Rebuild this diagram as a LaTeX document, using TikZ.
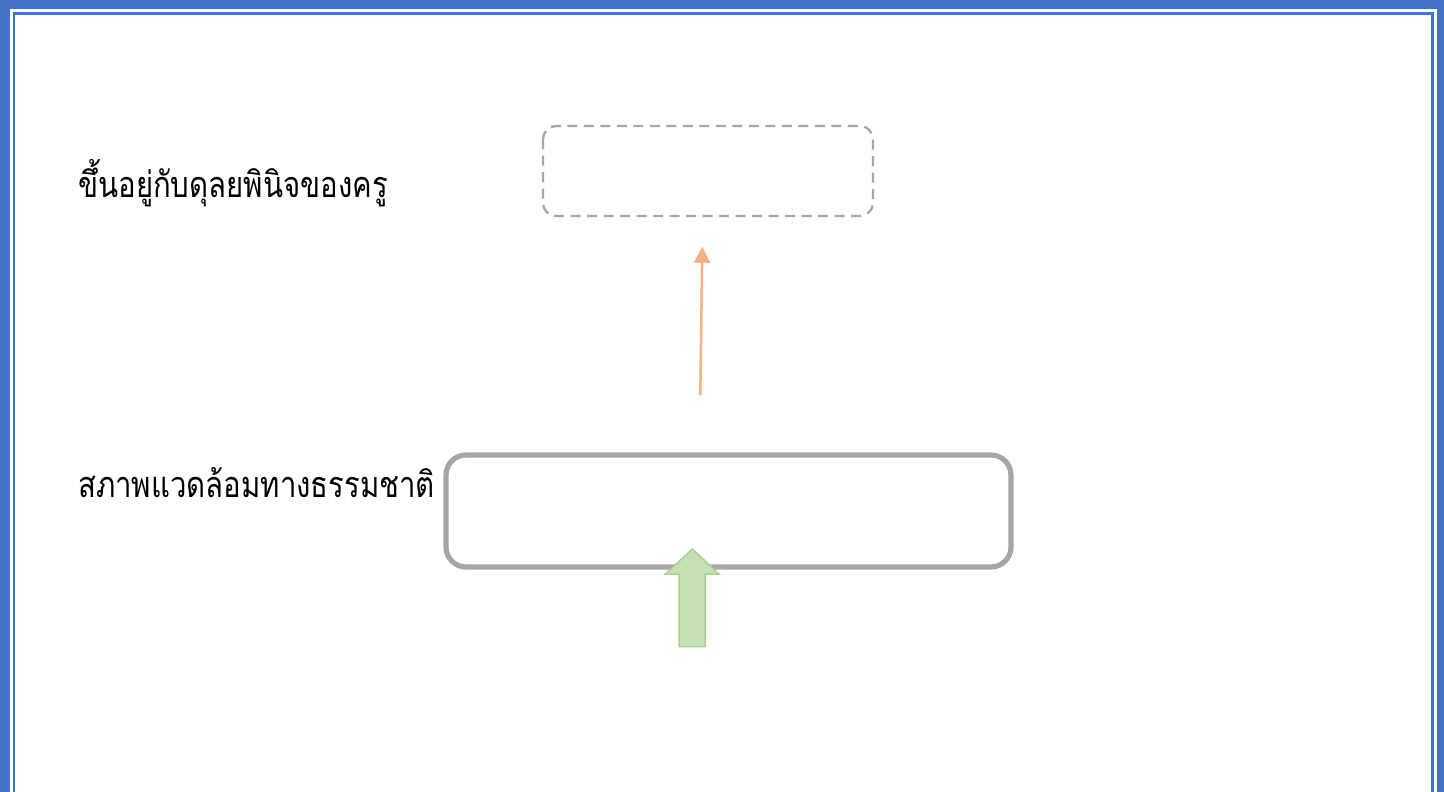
\documentclass[tikz,border=0pt]{standalone}
\usepackage{fontspec}
\usepackage{graphicx}
\usetikzlibrary{arrows.meta}
\newfontfamily\thaifont[Script=Thai]{Loma}
\definecolor{frameblue}{HTML}{4472C4}
\definecolor{boxgrey}{HTML}{A6A6A6}
\definecolor{arroworange}{HTML}{F4B183}
\definecolor{greenfill}{HTML}{C5E0B4}
\definecolor{greenline}{HTML}{A9D18E}
\newcommand{\thailbl}[1]{\scalebox{0.815}[1]{#1}}
\tikzset{
  lbl/.style={anchor=base west, inner sep=0pt, font=\thaifont\fontsize{36}{42}\selectfont},
  dashbox/.style={draw=boxgrey, line width=2.3pt, dash pattern=on 10pt off 6.5pt, rounded corners=13pt},
  solidbox/.style={draw=boxgrey, line width=5.2pt, rounded corners=20pt},
  thinarrow/.style={draw=arroworange, line width=2.5pt, -{Triangle[width=16pt,length=16pt]}},
  blockarrow/.style={fill=greenfill, draw=greenline, line width=1.5pt, line join=miter}
}
\begin{document}
\begin{tikzpicture}[x=1pt,y=-1pt]
\useasboundingbox (0,0) rectangle (1444,792);
\fill[white] (0,0) rectangle (1444,792);
% frame
\fill[frameblue] (0,0) rectangle (10,792);
\fill[frameblue] (0,0) rectangle (1444,9);
\fill[frameblue] (1437,0) rectangle (1444,792);
\draw[frameblue, line width=2.6pt] (14,792) -- (14,13.7) -- (1432.5,13.7) -- (1432.5,792);
% labels
\node[lbl] (t1) at (78,197) {\thailbl{ขึ้นอยู่กับดุลยพินิจของครู}};
\node[lbl] (t2) at (78,497) {\thailbl{สภาพแวดล้อมทางธรรมชาติ}};
% boxes
\draw[dashbox] (543,126) rectangle (873,216);
\draw[solidbox] (446,455) rectangle (1011,567);
% orange arrow
\coordinate (oa) at (700.3,395);
\coordinate (ob) at (702.3,246.7);
\draw[thinarrow] (oa) -- (ob);
% green block arrow
\draw[blockarrow] (692.3,549) -- (719,574) -- (705,574) -- (705,646.5) -- (679,646.5) -- (679,574) -- (665.5,574) -- cycle;
\end{tikzpicture}
\end{document}
